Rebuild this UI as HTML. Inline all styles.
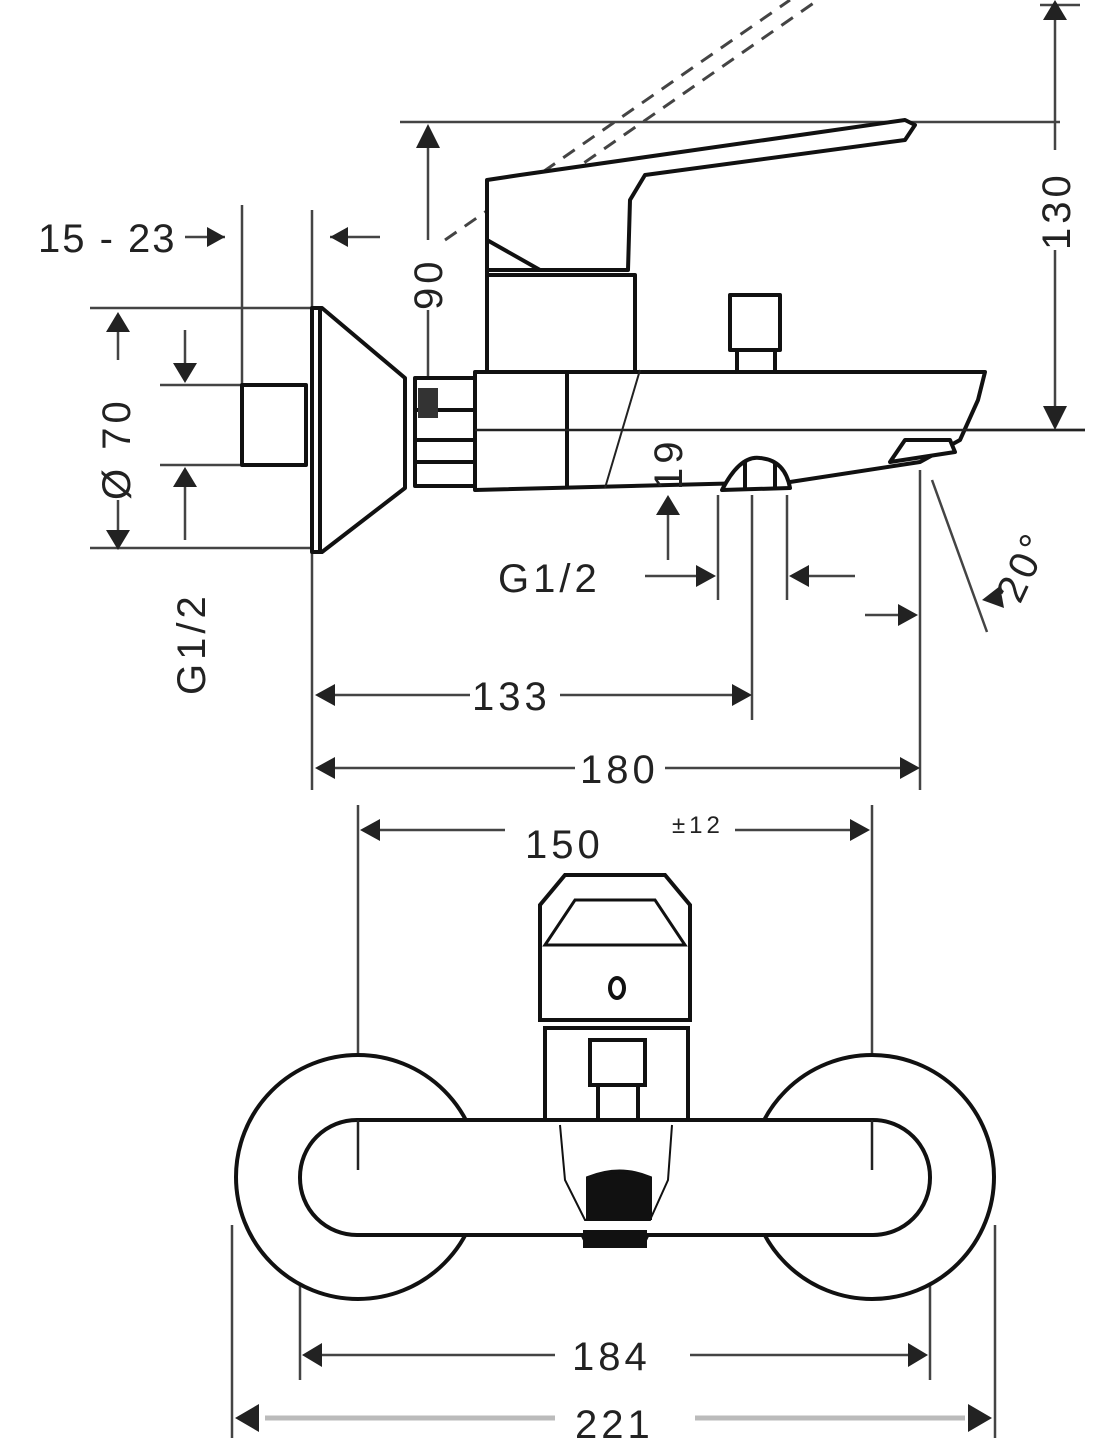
<!DOCTYPE html>
<html><head><meta charset="utf-8"><style>
html,body{margin:0;padding:0;background:#fff;}
svg{display:block;}
text{font-family:"Liberation Sans",sans-serif;font-size:40px;fill:#222;letter-spacing:4px;}
</style></head><body>
<svg width="1120" height="1438" viewBox="0 0 1120 1438" xmlns="http://www.w3.org/2000/svg">
<g stroke="#444" stroke-width="2.5" fill="none">
<line x1="312" y1="210" x2="312" y2="790"/>
<line x1="242" y1="205" x2="242" y2="385"/>
<line x1="90" y1="308" x2="312" y2="308"/>
<line x1="90" y1="548" x2="312" y2="548"/>
<line x1="160" y1="385" x2="242" y2="385"/>
<line x1="160" y1="465" x2="242" y2="465"/>
<line x1="118" y1="320" x2="118" y2="360"/>
<line x1="118" y1="500" x2="118" y2="540"/>
<line x1="185" y1="330" x2="185" y2="380"/>
<line x1="185" y1="470" x2="185" y2="540"/>
<line x1="185" y1="237" x2="225" y2="237"/>
<line x1="330" y1="237" x2="380" y2="237"/>
<line x1="400" y1="122" x2="1060" y2="122"/>
<line x1="428" y1="130" x2="428" y2="240"/>
<line x1="428" y1="310" x2="428" y2="378"/>
<line x1="475" y1="430" x2="1085" y2="430"/>
<line x1="1055" y1="10" x2="1055" y2="150"/>
<line x1="1055" y1="250" x2="1055" y2="420"/>
<line x1="1040" y1="5" x2="1080" y2="5"/>
<line x1="668" y1="370" x2="668" y2="420"/>
<line x1="668" y1="505" x2="668" y2="560"/>
<line x1="718" y1="495" x2="718" y2="600"/>
<line x1="787" y1="495" x2="787" y2="600"/>
<line x1="752" y1="495" x2="752" y2="720"/>
<line x1="920" y1="470" x2="920" y2="790"/>
<line x1="645" y1="576" x2="700" y2="576"/>
<line x1="805" y1="576" x2="855" y2="576"/>
<line x1="865" y1="615" x2="905" y2="615"/>
<line x1="932" y1="480" x2="987" y2="632"/>
<line x1="330" y1="695" x2="470" y2="695"/>
<line x1="560" y1="695" x2="735" y2="695"/>
<line x1="330" y1="768" x2="575" y2="768"/>
<line x1="665" y1="768" x2="905" y2="768"/>
<line x1="358" y1="805" x2="358" y2="1170"/>
<line x1="872" y1="805" x2="872" y2="1170"/>
<line x1="375" y1="830" x2="505" y2="830"/>
<line x1="735" y1="830" x2="855" y2="830"/>
<line x1="300" y1="1230" x2="300" y2="1380"/>
<line x1="930" y1="1230" x2="930" y2="1380"/>
<line x1="318" y1="1355" x2="555" y2="1355"/>
<line x1="690" y1="1355" x2="912" y2="1355"/>
<line x1="232" y1="1225" x2="232" y2="1438"/>
<line x1="995" y1="1225" x2="995" y2="1438"/>
<line x1="265" y1="1418" x2="555" y2="1418" stroke="#bbb" stroke-width="5"/>
<line x1="695" y1="1418" x2="965" y2="1418" stroke="#bbb" stroke-width="5"/>
<line x1="445" y1="240" x2="790" y2="0" stroke-dasharray="14 10" stroke-width="3"/>
<line x1="545" y1="190" x2="818" y2="0" stroke-dasharray="14 10" stroke-width="3"/>
</g>
<g fill="#222">
<path d="M225 237 l-18 -10 v20z"/><path d="M330 237 l18 -10 v20z"/>
<path d="M118 312 l-12 20 h24z"/><path d="M118 550 l-12 -20 h24z"/>
<path d="M185 383 l-12 -20 h24z"/><path d="M185 467 l-12 20 h24z"/>
<path d="M428 124 l-12 24 h24z"/>
<path d="M1055 0 l-12 20 h24z"/><path d="M1055 430 l-12 -24 h24z"/>
<path d="M668 428 l-12 -20 h24z"/><path d="M668 495 l-12 20 h24z"/>
<path d="M716 576 l-20 -11 v22z"/><path d="M789 576 l20 -11 v22z"/>
<path d="M918 615 l-20 -11 v22z"/><path d="M982 600 l18 -14 l4 22z"/>
<path d="M315 695 l20 -11 v22z"/><path d="M752 695 l-20 -11 v22z"/>
<path d="M315 768 l20 -11 v22z"/><path d="M920 768 l-20 -11 v22z"/>
<path d="M360 830 l20 -11 v22z"/><path d="M870 830 l-20 -11 v22z"/>
<path d="M302 1355 l20 -12 v24z"/><path d="M928 1355 l-20 -12 v24z"/>
<path d="M235 1418 l24 -14 v28z"/><path d="M992 1418 l-24 -14 v28z"/>
</g>
<g stroke="#111" stroke-width="4" fill="#fff" stroke-linejoin="round">
<rect x="242" y="385" width="64" height="80"/>
<path d="M312 308 L322 308 L405 378 L405 488 L322 552 L312 552 Z"/>
<line x1="320" y1="310" x2="320" y2="550"/>
<path d="M487 372 L487 275 L635 275 L635 372"/>
<path d="M487 275 L487 180 L520 175 L905 120 L915 125 L905 140 L645 175 L630 200 L628 270 L487 270 Z"/>
<path d="M487 240 L540 270 L487 270 Z"/>
<path d="M475 372 L985 372 L978 400 L960 440 L920 462 L790 482 L475 490 Z"/>
<line x1="567" y1="372" x2="567" y2="488"/>
<rect x="415" y="378" width="60" height="108"/>
<line x1="415" y1="410" x2="475" y2="410"/><line x1="415" y1="440" x2="475" y2="440"/><line x1="415" y1="462" x2="475" y2="462"/>
<rect x="730" y="295" width="50" height="55"/>
<rect x="737" y="350" width="38" height="22"/>
<path d="M722 490 Q740 455 760 458 Q785 460 790 488 Z"/>
<line x1="745" y1="462" x2="745" y2="490"/><line x1="775" y1="462" x2="775" y2="490"/>
<path d="M890 462 L905 440 L950 440 L955 452 Z"/>
</g>
<line x1="475" y1="430" x2="1085" y2="430" stroke="#222" stroke-width="2.5"/>
<rect x="418" y="388" width="20" height="30" fill="#333"/>
<line x1="640" y1="370" x2="605" y2="488" stroke="#222" stroke-width="2"/>
<g stroke="#111" stroke-width="4" fill="#fff">
<circle cx="358" cy="1177" r="122"/>
<circle cx="872" cy="1177" r="122"/>
<path d="M560 1120 L555 1180 L585 1240 L645 1240 L675 1180 L670 1120"/>
<rect x="300" y="1120" width="630" height="115" rx="57"/>
<path d="M540 1020 L540 905 L565 875 L665 875 L690 905 L690 1020 Z"/>
<path d="M545 945 L575 900 L655 900 L685 945 Z" stroke-width="3"/>
<rect x="545" y="1028" width="143" height="92"/>
<rect x="590" y="1040" width="55" height="45"/>
<rect x="598" y="1085" width="40" height="35"/>
<ellipse cx="617" cy="988" rx="7" ry="10"/>
<path d="M560 1125 L565 1180 L585 1220 L650 1220 L668 1180 L672 1125" fill="none" stroke-width="2"/>
<path d="M588 1178 Q620 1165 650 1178 L650 1218 L588 1218 Z" fill="#111"/>
<rect x="585" y="1232" width="60" height="14" fill="#111"/>
</g>
<line x1="358" y1="1120" x2="358" y2="1170" stroke="#222" stroke-width="2.5"/>
<line x1="872" y1="1120" x2="872" y2="1170" stroke="#222" stroke-width="2.5"/>
<text x="38" y="252" style="letter-spacing:2px">15 - 23</text>
<text transform="translate(130,500) rotate(-90)">Ø 70</text>
<text transform="translate(205,695) rotate(-90)">G1/2</text>
<text transform="translate(442,310) rotate(-90)">90</text>
<text transform="translate(1070,250) rotate(-90)">130</text>
<text transform="translate(682,490) rotate(-90)">19</text>
<text x="498" y="592">G1/2</text>
<text transform="translate(1020,605) rotate(-65)">20°</text>
<text x="472" y="710">133</text>
<text x="580" y="783">180</text>
<text x="525" y="858">150</text>
<text x="672" y="833" style="font-size:24px">±12</text>
<text x="572" y="1370">184</text>
<text x="575" y="1438">221</text>
</svg>
</body></html>
